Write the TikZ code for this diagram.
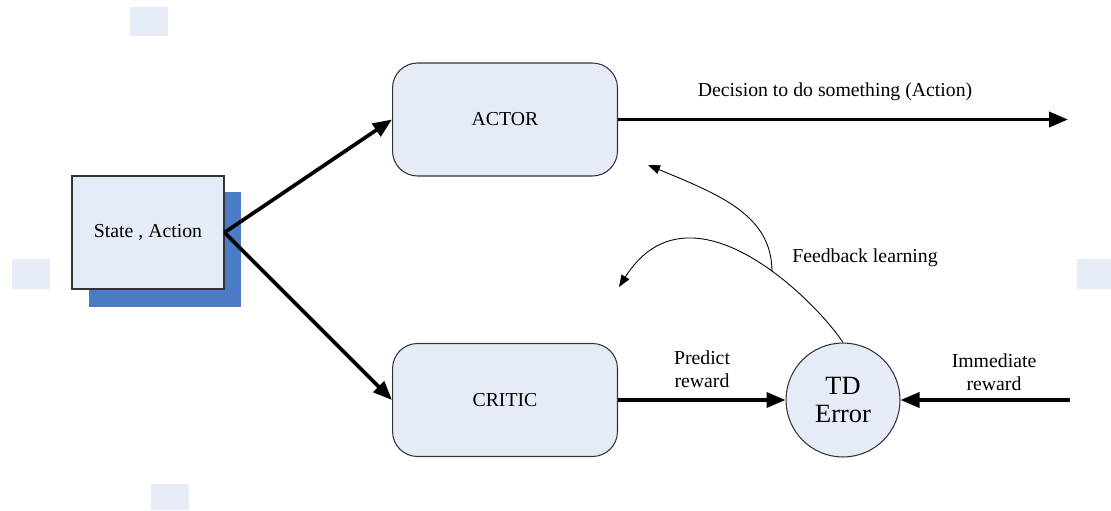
\documentclass[tikz,border=0pt]{standalone}
\usepackage{fontspec}
\setmainfont{Liberation Serif}
\usepackage{xcolor}
\usetikzlibrary{arrows.meta}
\definecolor{boxfill}{HTML}{E6ECF7}
\definecolor{shadowblue}{HTML}{4A7BC4}

\begin{document}
\begin{tikzpicture}[x=0.02cm, y=-0.02cm,
    every node/.style={font=\fontsize{11.25}{13}\selectfont},
    block/.style={draw=black!80, line width=0.6pt, fill=boxfill, rounded corners=0.5cm,
        minimum width=4.5cm, minimum height=2.26cm},
    bigarrow/.style={line width=2.1pt, -{Triangle[length=0.38cm,width=0.3cm]}},
    thinarrow/.style={line width=0.5pt, -{Triangle[length=0.24cm,width=0.18cm]}}]
            \useasboundingbox (0,0) rectangle (1111,510);
            % Pale squares round the edge
            \fill[boxfill] (130,7) rectangle (168,36);
            \fill[boxfill] (151,484) rectangle (189,510);
            \fill[boxfill] (12,259) rectangle (50,289);
            \fill[boxfill] (1077,259) rectangle (1111,289);
            % Input box with its shadow
            \fill[shadowblue] (89,192) rectangle (241,307);
            \node[draw=black!80, line width=0.6pt, fill=boxfill, minimum width=3.04cm,
                minimum height=2.26cm] (state) at (148,232.5) {State , Action};
            % Actor and critic
            \node[block] (actor) at (505,119.5) {ACTOR};
            \node[block] (critic) at (505,400) {CRITIC};
            % TD error
            \node[circle, draw=black!80, line width=0.6pt, fill=boxfill, minimum size=2.28cm,
                inner sep=0pt, align=center, font=\fontsize{15}{16}\selectfont]
                (td) at (843,400) {TD\\Error};
            % Free ends
            \coordinate (act) at (1068,119.5);
            \coordinate (rew) at (1070,400);
            \coordinate (fork) at (772,272);
            \coordinate (tipA) at (648,165);
            \coordinate (tipB) at (619,287);
            % Arrows
            \draw[bigarrow] (state.east) -- (actor.west);
            \draw[bigarrow] (state.east) -- (critic.west);
            \draw[bigarrow] (actor.east) -- (act);
            \draw[bigarrow] (critic.east) -- (td.west);
            \draw[bigarrow] (rew) -- (td.east);
            % Feedback
            \draw[thinarrow] (td.north) .. controls (815,300) and (690,175) .. (tipB);
            \draw[thinarrow] (fork) .. controls (772,215) and (720,195) .. (tipA);
            % Labels
            \node (declbl) at (835,92) {Decision to do something (Action)};
            \node (fblbl) at (865,258) {Feedback learning};
            \node[align=center] (predlbl) at (702,369) {Predict\\reward};
            \node[align=center] (immlbl) at (994,372) {Immediate\\reward};
        \end{tikzpicture}
\end{document}
